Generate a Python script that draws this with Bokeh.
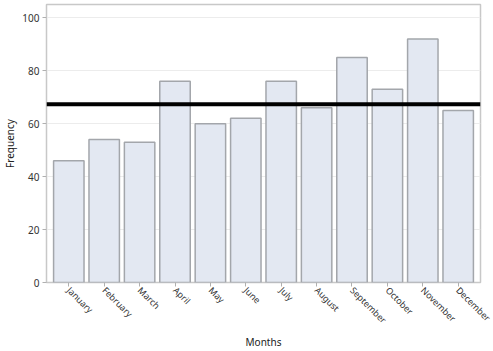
import math
from bokeh.plotting import figure
from bokeh.models import FactorRange, ColumnDataSource, Span
from bokeh.embed import file_html
from bokeh.resources import INLINE

months = ["January", "February", "March", "April", "May", "June", "July",
          "August", "September", "October", "November", "December"]
frequency = [46, 54, 53, 76, 60, 62, 76, 66, 85, 73, 92, 65]
mean_value = sum(frequency) / len(frequency)

src = ColumnDataSource(dict(month=months, freq=frequency))

p = figure(width=493, height=351, output_backend="svg", toolbar_location=None,
           x_range=FactorRange(*months, range_padding=0.13, range_padding_units="absolute"),
           y_range=(0, 105),
           min_border_left=0, min_border_right=13, min_border_top=4, min_border_bottom=0)

p.vbar(x="month", top="freq", width=0.86, source=src,
       fill_color="#e3e8f2", line_color="#a3a6ab", line_width=1.5)

p.add_layout(Span(location=mean_value, dimension="width", line_color="black", line_width=4))

p.outline_line_color="#c8c8c8"
p.outline_line_width=1.5
p.xgrid.grid_line_color=None
p.ygrid.grid_line_color="#ececec"
p.yaxis.ticker = [0, 20, 40, 60, 80, 100]

for ax in (p.xaxis, p.yaxis):
    ax.axis_line_color=None
    ax.major_tick_line_color="#b0b0b0"
    ax.minor_tick_line_color=None
    ax.major_label_text_color="#333333"
    ax.major_label_text_font="Noto Sans"
    ax.major_label_text_font_size="10px"
    ax.axis_label_text_font="Noto Sans"
    ax.axis_label_text_font_size="10px"
    ax.axis_label_text_font_style="normal"
    ax.axis_label_text_color="#222222"
    ax.major_tick_out=4
    ax.major_tick_in=0
    ax.major_label_standoff=3

p.xaxis.axis_label="Months"
p.yaxis.axis_label="Frequency"
p.xaxis.major_label_orientation=-math.pi/4
p.xaxis.major_label_text_font_size="9px"
p.xaxis.major_label_standoff=2
p.xaxis.axis_label_standoff=1
p.yaxis.axis_label_standoff=2

open("out.html", "w").write(file_html(p, INLINE))
